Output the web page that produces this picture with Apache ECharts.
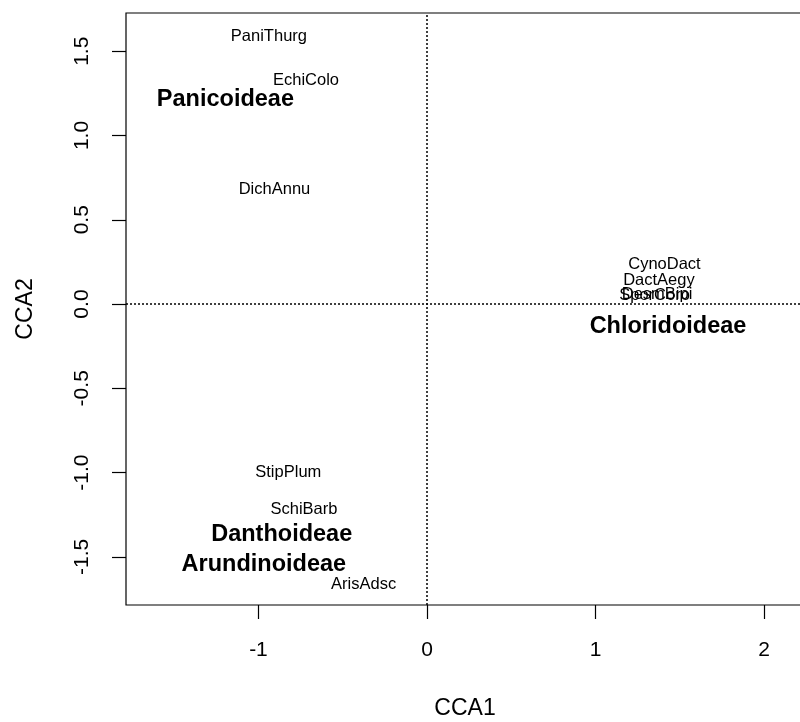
<!DOCTYPE html>
<html>
<head>
<meta charset="utf-8">
<style>
  html, body { margin: 0; padding: 0; background: #fff; }
  #chart { width: 800px; height: 722px; }
</style>
<script src="https://cdn.jsdelivr.net/npm/echarts@6/dist/echarts.min.js"></script>
</head>
<body>
<div id="chart"></div>
<script>
// Species scores (CCA1, CCA2)
const speciesNames = ['PaniThurg', 'EchiColo', 'DichAnnu', 'CynoDact', 'DactAegy', 'DesmBipi', 'SporCoro', 'StipPlum', 'SchiBarb', 'ArisAdsc'];
const speciesX = [-0.938, -0.718, -0.905, 1.409, 1.376, 1.365, 1.350, -0.823, -0.730, -0.376];
const speciesY = [1.590, 1.329, 0.682, 0.237, 0.138, 0.058, 0.052, -1.001, -1.218, -1.662];

// Subfamily centroids (constraining factor levels)
const taxaNames = ['Panicoideae', 'Chloridoideae', 'Danthoideae', 'Arundinoideae'];
const taxaX = [-1.196, 1.430, -0.862, -0.968];
const taxaY = [1.215, -0.131, -1.367, -1.545];

// Axis ticks
const xTicks = [-1, 0, 1, 2];
const yTicks = [-1.5, -1.0, -0.5, 0.0, 0.5, 1.0, 1.5];

const FONT = '"Liberation Sans", Arial, sans-serif';

const chart = echarts.init(document.getElementById('chart'));

const speciesData = speciesNames.map((n, i) => ({ name: n, value: [speciesX[i], speciesY[i]] }));
const taxaData = taxaNames.map((n, i) => ({ name: n, value: [taxaX[i], taxaY[i]] }));

const centredLabel = {
  show: true, position: [0, 0], align: 'center', verticalAlign: 'middle',
  formatter: p => p.name, textBorderWidth: 0, opacity: 1
};

chart.setOption({
  animation: false,
  backgroundColor: '#fff',
  grid: {
    left: 126, top: 13, width: 678, height: 592,
    outerBoundsMode: 'none', containLabel: false,
    show: true, borderColor: '#000', borderWidth: 1.2, backgroundColor: 'transparent'
  },
  xAxis: {
    type: 'value',
    min: -1.786, max: 2.237,
    name: 'CCA1', nameLocation: 'middle', nameGap: 92,
    nameTextStyle: { fontFamily: FONT, fontSize: 23, color: '#000' },
    axisLine: { show: false, onZero: false },
    splitLine: { show: false },
    axisTick: { show: true, length: 14, customValues: xTicks, lineStyle: { color: '#000', width: 1.2 } },
    axisLabel: {
      customValues: xTicks, margin: 35,
      fontFamily: FONT, fontSize: 21, color: '#000',
      formatter: v => String(v)
    }
  },
  yAxis: {
    type: 'value',
    min: -1.786, max: 1.727,
    name: 'CCA2', nameLocation: 'middle', nameGap: 89,
    nameTextStyle: { fontFamily: FONT, fontSize: 23, color: '#000' },
    axisLine: { show: false, onZero: false },
    splitLine: { show: false },
    axisTick: { show: true, length: 14, customValues: yTicks, lineStyle: { color: '#000', width: 1.2 } },
    axisLabel: {
      customValues: yTicks, margin: 33, rotate: 90,
      fontFamily: FONT, fontSize: 21, color: '#000',
      formatter: v => v.toFixed(1)
    }
  },
  series: [
    {
      name: 'species',
      type: 'scatter',
      symbolSize: 0,
      itemStyle: { opacity: 1, color: '#000' },
      data: speciesData,
      label: Object.assign({}, centredLabel, {
        fontFamily: FONT, fontSize: 16.5, color: '#000'
      }),
      markLine: {
        silent: true,
        symbol: 'none',
        label: { show: false },
        lineStyle: { color: '#000', type: [2, 2], width: 1.5, opacity: 1 },
        data: [{ xAxis: 0 }, { yAxis: 0 }]
      }
    },
    {
      name: 'subfamilies',
      type: 'scatter',
      symbolSize: 0,
      itemStyle: { opacity: 1, color: '#000' },
      data: taxaData,
      label: Object.assign({}, centredLabel, {
        fontFamily: FONT, fontSize: 23.5, fontWeight: 'bold', color: '#000'
      })
    }
  ]
});
</script>
</body>
</html>
